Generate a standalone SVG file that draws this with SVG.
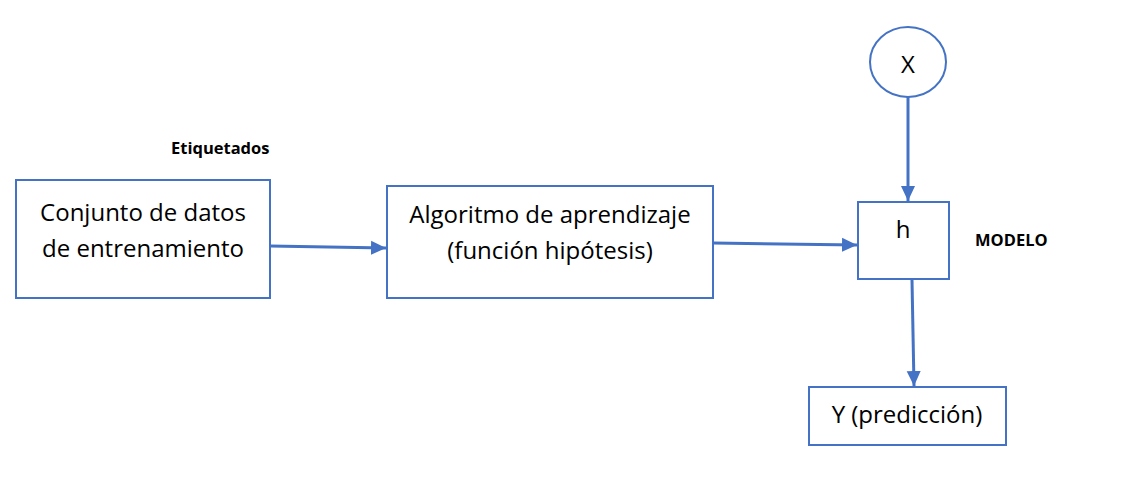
<svg xmlns="http://www.w3.org/2000/svg" width="1139" height="483" viewBox="0 0 1139 483">
<style>
.box{fill:#fff;stroke:#4472C4;stroke-width:2}
.t{font-family:"Open Sans","Liberation Sans",sans-serif;font-size:24px;fill:#000;text-anchor:middle}
.lb{font-family:"Open Sans","Liberation Sans",sans-serif;font-size:16.5px;font-weight:bold;fill:#000}
.c{stroke:#4472C4;stroke-width:3;fill:none}
</style>
<defs>
<marker id="ah" markerUnits="userSpaceOnUse" markerWidth="16" markerHeight="16" refX="15" refY="8" orient="auto"><path d="M0,1 L15,8 L0,15 z" fill="#4472C4"/></marker>
</defs>
<rect width="1139" height="483" fill="#fff"/>
<g id="connectors">
<line class="c" x1="270" y1="246" x2="386" y2="248" marker-end="url(#ah)"/>
<line class="c" x1="713" y1="243" x2="857" y2="245" marker-end="url(#ah)"/>
<line class="c" x1="908" y1="97" x2="908" y2="201" marker-end="url(#ah)"/>
<line class="c" x1="912" y1="280" x2="914" y2="386" marker-end="url(#ah)"/>
</g>
<g id="label-etiquetados"><text class="lb" x="171" y="154">Etiquetados</text></g>
<g id="node-datos"><rect class="box" x="16" y="180" width="254" height="118"/><text class="t" x="143" y="221">Conjunto de datos</text><text class="t" x="143" y="257">de entrenamiento</text></g>
<g id="node-algoritmo"><rect class="box" x="387" y="186" width="326" height="112"/><text class="t" x="550" y="223">Algoritmo de aprendizaje</text><text class="t" x="550" y="259">(función hipótesis)</text></g>
<g id="node-x"><ellipse class="box" cx="908" cy="62" rx="38" ry="35"/><text class="t" x="908" y="73">X</text></g>
<g id="node-h"><rect class="box" x="858" y="202" width="91" height="77"/><text class="t" x="903" y="238">h</text></g>
<g id="label-modelo"><text class="lb" x="975" y="246">MODELO</text></g>
<g id="node-y"><rect class="box" x="809" y="387" width="197" height="58"/><text class="t" x="907" y="423">Y (predicción)</text></g>
</svg>
